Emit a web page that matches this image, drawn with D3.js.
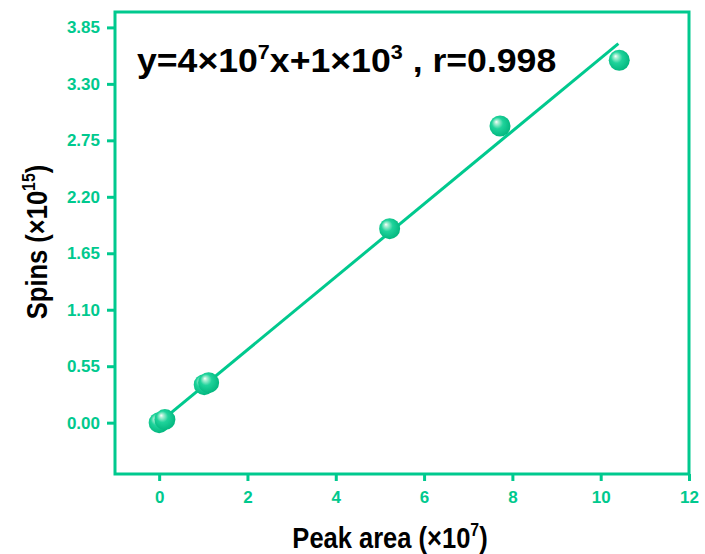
<!DOCTYPE html>
<html><head><meta charset="utf-8">
<script src="https://cdn.jsdelivr.net/npm/d3@7"></script>
<style>body{margin:0;background:#fff}svg{display:block}text{font-family:Arial,"Liberation Sans",sans-serif}</style>
</head><body>
<script>
const peakArea = [0.0, 0.13, 1.02, 1.12, 5.22, 7.72, 10.42];
const spins    = [0.0, 0.03, 0.37, 0.39, 1.89, 2.89, 3.53];
const fitSlope = 0.355;
const fitIntercept = 0.0;
const fitRange = [0, 10.4];
const xTicks = [0, 2, 4, 6, 8, 10, 12];
const yTicks = [0.00, 0.55, 1.10, 1.65, 2.20, 2.75, 3.30, 3.85];

const W = 705, H = 554;
const green = "#00C98E";
const m = {left:115, right:16, top:12, bottom:80};
const svg = d3.select("body").append("svg").attr("width", W).attr("height", H);
const defs = svg.append("defs");
const g = defs.append("radialGradient").attr("id","ball").attr("cx","45%").attr("cy","45%").attr("r","60%").attr("fx","32%").attr("fy","30%");
g.append("stop").attr("offset","0%").attr("stop-color","#ffffff");
g.append("stop").attr("offset","14%").attr("stop-color","#aef0d6");
g.append("stop").attr("offset","45%").attr("stop-color","#1fd39b");
g.append("stop").attr("offset","100%").attr("stop-color","#00b47c");

const x = d3.scaleLinear().domain([-1, 12]).range([m.left, W - m.right]);
const y = d3.scaleLinear().domain([-0.5, 4.0]).range([H - m.bottom, m.top]);

// axes
const xAxis = svg.append("g").attr("transform", `translate(0,${H - m.bottom})`)
  .call(d3.axisBottom(x).tickValues(xTicks).tickSize(7).tickPadding(10).tickFormat(d3.format("d")));
const yAxis = svg.append("g").attr("transform", `translate(${m.left},0)`)
  .call(d3.axisLeft(y).tickValues(yTicks).tickSize(8).tickPadding(7).tickFormat(d3.format(".2f")));
[xAxis, yAxis].forEach(a => {
  a.select(".domain").remove();
  a.selectAll(".tick line").attr("stroke", green).attr("stroke-width", 3);
  a.selectAll(".tick text").attr("fill", green).attr("font-size", 17).attr("font-weight", "bold")
    .attr("font-family", "Arial, 'Liberation Sans', sans-serif");
});

// frame
svg.append("rect").attr("x", x(-1)).attr("y", y(4.0))
  .attr("width", x(12) - x(-1)).attr("height", y(-0.5) - y(4.0))
  .attr("fill", "none").attr("stroke", green).attr("stroke-width", 3);

// fit line
svg.append("line")
  .attr("x1", x(fitRange[0])).attr("y1", y(fitSlope*fitRange[0] + fitIntercept))
  .attr("x2", x(fitRange[1])).attr("y2", y(fitSlope*fitRange[1] + fitIntercept))
  .attr("stroke", green).attr("stroke-width", 3);

// balls
svg.append("g").selectAll("circle").data(peakArea.map((d,i)=>[d, spins[i]])).join("circle")
  .attr("cx", d => x(d[0])).attr("cy", d => y(d[1])).attr("r", 10.5)
  .attr("fill", "url(#ball)");

// equation
const eq = svg.append("text").attr("transform", "translate(137,72) scale(1.08,1)")
  .attr("font-size", 33).attr("font-weight", "bold").attr("fill", "#000");
eq.append("tspan").text("y=4×10");
eq.append("tspan").text("7").attr("font-size", 20).attr("dy", -13);
eq.append("tspan").text("x+1×10").attr("dy", 13);
eq.append("tspan").text("3").attr("font-size", 20).attr("dy", -13);
eq.append("tspan").text(" , r=0.998").attr("dy", 13);

// x label
const xl = svg.append("text").attr("transform", "translate(390,548) scale(0.88,1)").attr("text-anchor", "middle")
  .attr("font-size", 29).attr("font-weight", "bold").attr("fill", "#000");
xl.append("tspan").text("Peak area (×10");
xl.append("tspan").text("7").attr("font-size", 18).attr("dy", -12);
xl.append("tspan").text(")").attr("dy", 12);

// y label
const yl = svg.append("text").attr("transform", "translate(47,242) rotate(-90) scale(0.88,1)").attr("text-anchor", "middle")
  .attr("font-size", 29).attr("font-weight", "bold").attr("fill", "#000");
yl.append("tspan").text("Spins (×10");
yl.append("tspan").text("15").attr("font-size", 18).attr("dy", -12);
yl.append("tspan").text(")").attr("dy", 12);
</script>
</body></html>
